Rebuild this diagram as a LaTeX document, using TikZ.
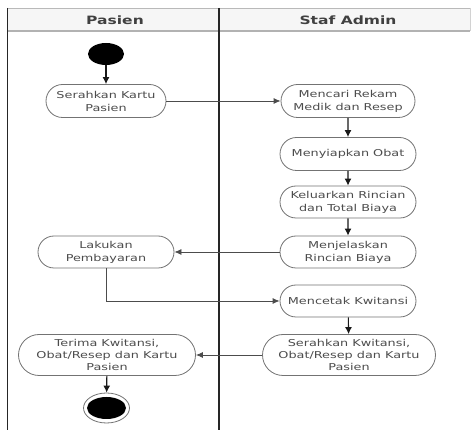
\documentclass[tikz,border=0pt]{standalone}
\usepackage{fontspec}
\setmainfont{DejaVu Sans}[FakeStretch=1.35]
\usepackage{tikz}
\usetikzlibrary{arrows.meta, positioning, calc, shapes.misc, shapes.geometric}

\begin{document}
\begin{tikzpicture}[
      x=1pt, y=-1pt,
      lanecol/.style={draw=black!85, line width=1.2pt},
      headlabel/.style={font=\fontsize{11.5}{14}\selectfont\bfseries, text=black!75},
      actbox/.style={rounded rectangle, draw=black!55, fill=white, line width=0.8pt, align=center, inner sep=1pt, text=black!70, font=\fontsize{9.5}{13}\selectfont},
      startnode/.style={ellipse, fill=black, minimum width=36pt, minimum height=22pt, inner sep=0pt},
      endnode/.style={ellipse, draw=black!55, line width=0.8pt, fill=white, minimum width=46pt, minimum height=30pt, inner sep=0pt},
      arrow/.style={-{Latex[length=7pt, width=7pt]}, line width=1.1pt, black!90},
      msgarrow/.style={-{Latex[length=7pt, width=6pt]}, line width=0.8pt, black!70}
    ]
      \useasboundingbox (0,0) rectangle (472,430);

      % Swimlane header
      \fill[gray!7] (7,8) rectangle (470,31);
      \draw[gray!55, line width=0.9pt] (7,8) -- (470,8);
      \draw[gray!60, line width=1.1pt] (7,31) -- (470,31);
      \draw[gray!35, line width=0.7pt] (470,8) -- (470,31);
      \node[headlabel] (pasienhead) at (115,20) {Pasien};
      \node[headlabel] (stafhead) at (348,20) {Staf Admin};

      % Swimlane borders
      \draw[lanecol] (7.5,8) -- (7.5,430);
      \draw[lanecol] (219,8) -- (219,430);

      % Start and end
      \node[startnode] (start) at (106,54) {};
      \node[endnode] (finish) at (106.5,408) {};
      \node[ellipse, fill=black, minimum width=39pt, minimum height=22pt, inner sep=0pt] (finishdot) at (finish.center) {};

      % Activities of Pasien
      \node[actbox, minimum width=122pt, minimum height=33pt]
        (serahkankartu)
        at
        (106,101)
        {Serahkan Kartu\\Pasien};

      \node[actbox, minimum width=138pt, minimum height=32pt]
        (lakukanbayar)
        at
        (106,252)
        {Lakukan\\Pembayaran};

      \node[actbox, minimum width=179pt, minimum height=41pt]
        (terimakwitansi)
        at
        (107,355)
        {Terima Kwitansi,\\[-1pt]Obat/Resep dan Kartu\\[-1pt]Pasien};

      % Activities of Staf Admin
      \node[actbox, minimum width=136pt, minimum height=33pt]
        (mencarirekam)
        at
        (348,101)
        {Mencari Rekam\\Medik dan Resep};

      \node[actbox, minimum width=138pt, minimum height=33pt]
        (menyiapkanobat)
        at
        (348,154)
        {Menyiapkan Obat};

      \node[actbox, minimum width=138pt, minimum height=32pt]
        (keluarkanrincian)
        at
        (348,202)
        {Keluarkan Rincian\\dan Total Biaya};

      \node[actbox, minimum width=138pt, minimum height=32pt]
        (menjelaskanrincian)
        at
        (348,252)
        {Menjelaskan\\Rincian Biaya};

      \node[actbox, minimum width=138pt, minimum height=32pt]
        (mencetakkwitansi)
        at
        (348,301)
        {Mencetak Kwitansi};

      \node[actbox, minimum width=175pt, minimum height=41pt]
        (serahkankwitansi)
        at
        (349,355)
        {Serahkan Kwitansi,\\[-1pt]Obat/Resep dan Kartu\\[-1pt]Pasien};

      % Control flow
      \draw[arrow] (start) -- (serahkankartu);
      \draw[msgarrow] (serahkankartu.east) -- (mencarirekam.west);
      \draw[arrow] (mencarirekam) -- (menyiapkanobat);
      \draw[arrow] (menyiapkanobat) -- (keluarkanrincian);
      \draw[arrow] (keluarkanrincian) -- (menjelaskanrincian);
      \draw[msgarrow] (menjelaskanrincian.west) -- (lakukanbayar.east);
      \draw[msgarrow] (lakukanbayar.south) |- (mencetakkwitansi.west);
      \draw[arrow] (mencetakkwitansi) -- (serahkankwitansi);
      \draw[msgarrow] (serahkankwitansi.west) -- (terimakwitansi.east);
      \draw[arrow] (terimakwitansi) -- (finish);
    \end{tikzpicture}
\end{document}
